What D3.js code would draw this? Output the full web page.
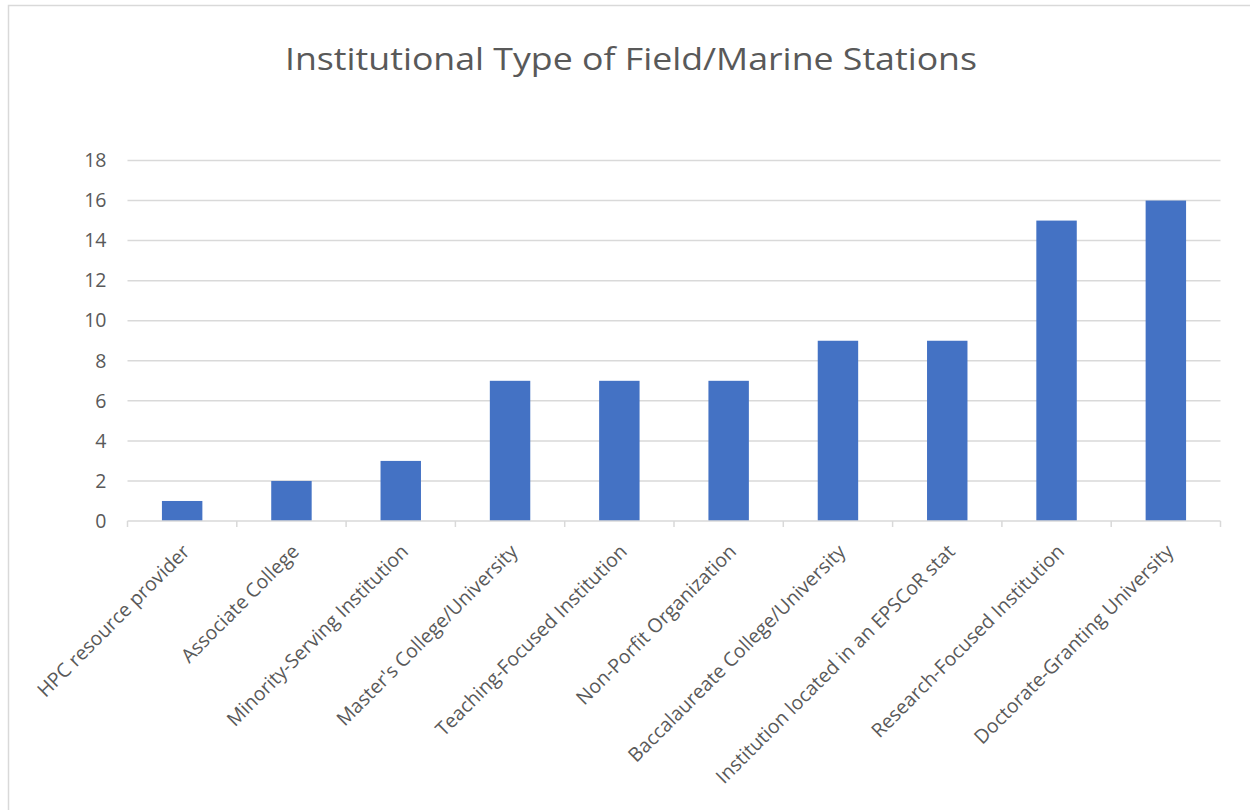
<!DOCTYPE html>
<html><head><meta charset="utf-8">
<script src="https://cdn.jsdelivr.net/npm/d3@7"></script>
<style>body{margin:0;background:#fff;} svg{display:block;}</style>
</head><body>
<svg id="chart" width="1250" height="810"></svg>
<script>
const categories = ["HPC resource provider","Associate College","Minority-Serving Institution","Master's College/University","Teaching-Focused Institution","Non-Porfit Organization","Baccalaureate College/University","Institution located in an EPSCoR stat","Research-Focused Institution","Doctorate-Granting University"];
const values = [1,2,3,7,7,7,9,9,15,16];
const yTicks = [0,2,4,6,8,10,12,14,16,18];
const title = "Institutional Type of Field/Marine Stations";

const svg = d3.select("#chart");
const font = "'Open Sans', 'Noto Sans', sans-serif";
const grey = "#595959";
svg.append("rect").attr("x",8.5).attr("y",5.5).attr("width",1250).attr("height",820)
  .attr("fill","#fff").attr("stroke","#d9d9d9").attr("stroke-width",1.5);

const m = {left:127.5, right:1220.5, top:160.5, bottom:521};
const x = d3.scaleBand().domain(categories).range([m.left,m.right]).paddingInner(0.63).paddingOuter(0.315);
const xb = d3.scaleBand().domain(categories).range([m.left,m.right]);
const y = d3.scaleLinear().domain([0,18]).range([m.bottom,m.top]);

const t = svg.append("text").attr("x",631).attr("y",70).attr("text-anchor","middle")
  .attr("font-family",font).attr("font-size",31).attr("fill",grey).text(title);
t.attr("textLength",692).attr("lengthAdjust","spacingAndGlyphs");

// gridlines
const g = svg.append("g");
g.selectAll("line.grid").data(yTicks.filter(d=>d>0)).join("line")
  .attr("x1",m.left).attr("x2",m.right).attr("y1",d=>y(d)).attr("y2",d=>y(d))
  .attr("stroke","#d9d9d9").attr("stroke-width",1.5);

// y labels
const yAxis = d3.axisLeft(y).tickValues(yTicks).tickSize(0).tickPadding(21);
const ya = svg.append("g").attr("transform",`translate(${m.left},0)`).call(yAxis);
ya.select(".domain").remove();
ya.selectAll("text").attr("font-family",font).attr("font-size",19.5).attr("fill",grey);

// bars
svg.append("g").selectAll("rect").data(categories).join("rect")
  .attr("x",d=>x(d)).attr("width",x.bandwidth())
  .attr("y",(d,i)=>y(values[i])).attr("height",(d,i)=>y(0)-y(values[i]))
  .attr("fill","#4472C4");

// x axis line and ticks
const ax = svg.append("g");
ax.append("line").attr("x1",m.left).attr("x2",m.right).attr("y1",m.bottom).attr("y2",m.bottom)
  .attr("stroke","#d9d9d9").attr("stroke-width",1.5);
const tickPos = categories.map(c=>xb(c)).concat([m.right]);
ax.selectAll("line.tk").data(tickPos).join("line").attr("class","tk")
  .attr("x1",d=>d).attr("x2",d=>d).attr("y1",m.bottom).attr("y2",m.bottom+6)
  .attr("stroke","#d9d9d9").attr("stroke-width",1.5);

// x labels
ax.selectAll("text").data(categories).join("text")
  .attr("transform",d=>`translate(${xb(d)+xb.bandwidth()/2+4},${m.bottom+27}) rotate(-45)`)
  .attr("text-anchor","end").attr("dy","0.35em")
  .attr("font-family",font).attr("font-size",19.5).attr("fill",grey).text(d=>d);
</script>
</body></html>
